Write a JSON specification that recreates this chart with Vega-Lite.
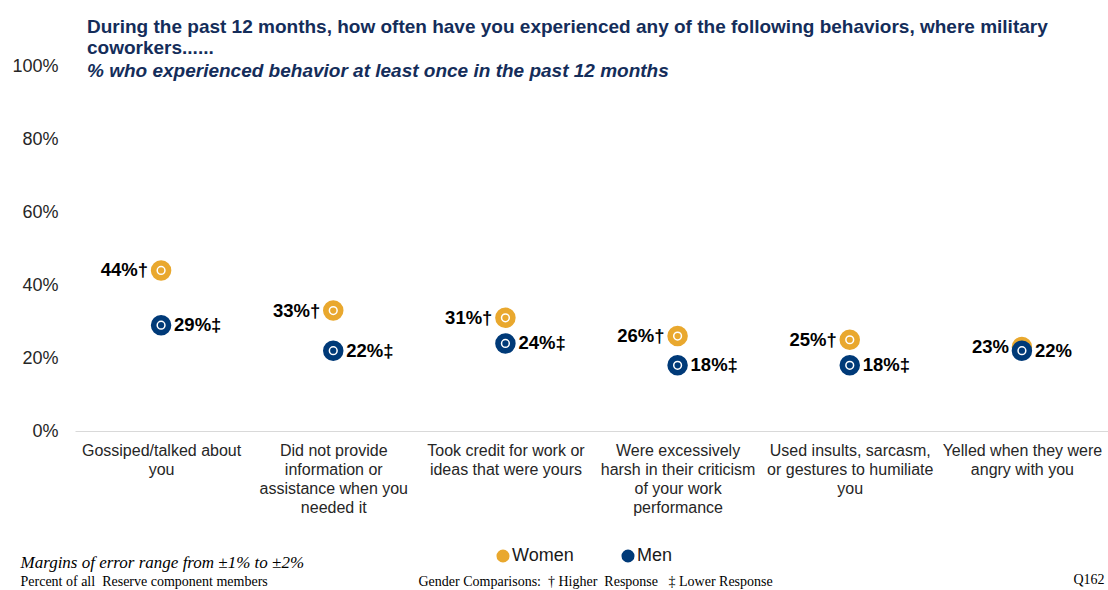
{
  "$schema": "https://vega.github.io/schema/vega-lite/v6.json",
  "width": 1033,
  "height": 365,
  "autosize": {"type": "none"},
  "padding": {"left": 75, "top": 66, "right": 0, "bottom": 159},
  "background": "white",
  "config": {"view": {"stroke": null}, "axis": {"grid": false}},
  "title": {
    "text": ["During the past 12 months,  how often have you experienced any of the following behaviors, where military", "coworkers......"],
    "subtitle": "% who experienced behavior at least once in the past 12 months",
    "anchor": "start",
    "frame": "group",
    "dx": 12,
    "offset": -24,
    "font": "Liberation Sans",
    "fontSize": 19,
    "fontWeight": "bold",
    "color": "#142D5A",
    "lineHeight": 21,
    "subtitleFont": "Liberation Sans",
    "subtitleFontSize": 19,
    "subtitleFontWeight": "bold",
    "subtitleFontStyle": "italic",
    "subtitleColor": "#142D5A",
    "subtitlePadding": 4
  },
  "data": {
    "values": [
      {"behavior": "Gossiped/talked about you", "gender": "Women", "value": 44, "sig": "†"},
      {"behavior": "Did not provide information or assistance when you needed it", "gender": "Women", "value": 33, "sig": "†"},
      {"behavior": "Took credit for work or ideas that were yours", "gender": "Women", "value": 31, "sig": "†"},
      {"behavior": "Were excessively harsh in their criticism of your work performance", "gender": "Women", "value": 26, "sig": "†"},
      {"behavior": "Used insults, sarcasm, or gestures to humiliate you", "gender": "Women", "value": 25, "sig": "†"},
      {"behavior": "Yelled when they were angry with you", "gender": "Women", "value": 23, "sig": ""},
      {"behavior": "Gossiped/talked about you", "gender": "Men", "value": 29, "sig": "‡"},
      {"behavior": "Did not provide information or assistance when you needed it", "gender": "Men", "value": 22, "sig": "‡"},
      {"behavior": "Took credit for work or ideas that were yours", "gender": "Men", "value": 24, "sig": "‡"},
      {"behavior": "Were excessively harsh in their criticism of your work performance", "gender": "Men", "value": 18, "sig": "‡"},
      {"behavior": "Used insults, sarcasm, or gestures to humiliate you", "gender": "Men", "value": 18, "sig": "‡"},
      {"behavior": "Yelled when they were angry with you", "gender": "Men", "value": 22, "sig": ""}
    ]
  },
  "transform": [{"calculate": "datum.value + '%' + datum.sig", "as": "label"}],
  "layer": [
    {
      "transform": [{"filter": "datum.gender == 'Women'"}],
      "mark": {"type": "point", "filled": true, "opacity": 1, "size": 420, "shape": "circle"},
      "encoding": {
        "x": {
          "field": "behavior", "type": "nominal", "sort": null,
          "scale": {"paddingInner": 0, "paddingOuter": 0},
          "axis": {
            "orient": "bottom",
            "title": "Gender Comparisons:\u00a0 † Higher\u00a0 Response\u00a0\u00a0 ‡ Lower Response",
            "titleX": 343, "titleY": 154, "titleAlign": "left", "titleBaseline": "alphabetic", "titleAnchor": "start",
            "titleFont": "Liberation Serif", "titleFontSize": 14, "titleFontWeight": "normal", "titleColor": "black",
            "labelAngle": 0, "labelFont": "Liberation Sans", "labelFontSize": 16, "labelColor": "#262626",
            "labelLineHeight": 19, "labelPadding": 11, "labelLimit": 300,
            "ticks": false, "domain": true, "domainColor": "#D9D9D9", "domainWidth": 1,
            "labelExpr": "datum.value == 'Gossiped/talked about you' ? ['Gossiped/talked about', 'you'] : datum.value == 'Did not provide information or assistance when you needed it' ? ['Did not provide', 'information or', 'assistance when you', 'needed it'] : datum.value == 'Took credit for work or ideas that were yours' ? ['Took credit for work or', 'ideas that were yours'] : datum.value == 'Were excessively harsh in their criticism of your work performance' ? ['Were excessively', 'harsh in their criticism', 'of your work', 'performance'] : datum.value == 'Used insults, sarcasm, or gestures to humiliate you' ? ['Used insults, sarcasm,', 'or gestures to humiliate', 'you'] : ['Yelled when they were', 'angry with you']"
          }
        },
        "y": {
          "field": "value", "type": "quantitative",
          "scale": {"domain": [0, 100], "nice": false},
          "axis": {
            "orient": "left", "values": [0, 20, 40, 60, 80, 100], "labelExpr": "datum.value + '%'",
            "labelFont": "Liberation Sans", "labelFontSize": 18, "labelColor": "#262626", "labelPadding": 17,
            "ticks": false, "domain": false, "grid": false,
            "title": "Margins of error range from ±1% to ±2%",
            "titleAngle": 0, "titleX": -55, "titleY": 501, "titleAlign": "left", "titleBaseline": "alphabetic", "titleAnchor": "start",
            "titleFont": "Liberation Serif", "titleFontSize": 17, "titleFontStyle": "italic", "titleFontWeight": "normal", "titleColor": "black"
          }
        },
        "color": {
          "field": "gender", "type": "nominal",
          "scale": {"domain": ["Women", "Men"], "range": ["#E9A82E", "#003A78"]},
          "legend": {
            "title": null, "orient": "none", "legendX": 419, "legendY": 481, "direction": "horizontal",
            "symbolType": "circle", "symbolSize": 170, "symbolStrokeWidth": 0, "symbolOpacity": 1,
            "labelFont": "Liberation Sans", "labelFontSize": 18, "labelColor": "#1a1a1a", "labelOffset": 0, "columnPadding": 45
          }
        }
      }
    },
    {
      "transform": [{"filter": "datum.gender == 'Women'"}],
      "mark": {"type": "point", "filled": false, "opacity": 1, "size": 60, "shape": "circle", "stroke": "white", "strokeWidth": 1.5},
      "encoding": {
        "x": {"field": "behavior", "type": "nominal", "sort": null, "axis": null},
        "y": {"field": "value", "type": "quantitative", "axis": null}
      }
    },
    {
      "transform": [{"filter": "datum.gender == 'Men'"}],
      "mark": {"type": "point", "filled": true, "opacity": 1, "size": 420, "shape": "circle"},
      "encoding": {
        "x": {"field": "behavior", "type": "nominal", "sort": null, "axis": null},
        "y": {"field": "value", "type": "quantitative", "axis": null},
        "color": {"field": "gender", "type": "nominal", "legend": null}
      }
    },
    {
      "transform": [{"filter": "datum.gender == 'Men'"}],
      "mark": {"type": "point", "filled": false, "opacity": 1, "size": 60, "shape": "circle", "stroke": "white", "strokeWidth": 1.5},
      "encoding": {
        "x": {"field": "behavior", "type": "nominal", "sort": null, "axis": null},
        "y": {"field": "value", "type": "quantitative", "axis": null}
      }
    },
    {
      "transform": [{"filter": "datum.gender == 'Women'"}],
      "mark": {"type": "text", "align": "right", "baseline": "middle", "dx": -13, "font": "Liberation Sans", "fontSize": 18.5, "fontWeight": "bold", "color": "black"},
      "encoding": {
        "x": {"field": "behavior", "type": "nominal", "sort": null, "axis": null},
        "y": {"field": "value", "type": "quantitative", "axis": null},
        "text": {"field": "label"}
      }
    },
    {
      "transform": [{"filter": "datum.gender == 'Men'"}],
      "mark": {"type": "text", "align": "left", "baseline": "middle", "dx": 13, "font": "Liberation Sans", "fontSize": 18.5, "fontWeight": "bold", "color": "black"},
      "encoding": {
        "x": {
          "field": "behavior", "type": "nominal", "sort": null,
          "axis": {
            "orient": "top", "labels": false, "ticks": false, "domain": false, "grid": false,
            "title": "Percent of all\u00a0 Reserve component members",
            "titleX": -55, "titleY": 519, "titleAlign": "left", "titleBaseline": "alphabetic", "titleAnchor": "start",
            "titleFont": "Liberation Serif", "titleFontSize": 14, "titleFontWeight": "normal", "titleColor": "black"
          }
        },
        "y": {
          "field": "value", "type": "quantitative",
          "axis": {
            "orient": "right", "labels": false, "ticks": false, "domain": false, "grid": false,
            "title": "Q162", "titleAngle": 0, "titleX": -35, "titleY": 517, "titleAlign": "left", "titleBaseline": "alphabetic", "titleAnchor": "start",
            "titleFont": "Liberation Serif", "titleFontSize": 14, "titleFontWeight": "normal", "titleColor": "black"
          }
        },
        "text": {"field": "label"}
      }
    }
  ]
}
